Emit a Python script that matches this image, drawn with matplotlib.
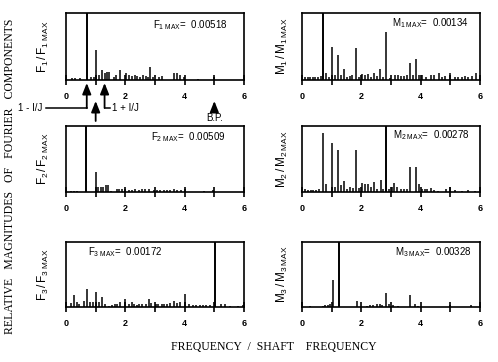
"""
Relative magnitudes of Fourier components of blade forces/moments vs frequency.
"""

import matplotlib
matplotlib.use("Agg")
import matplotlib.pyplot as plt

plt.rcParams["font.family"] = ["Liberation Sans", "DejaVu Sans"]
plt.rcParams["mathtext.fontset"] = "custom"
plt.rcParams["mathtext.rm"] = "Liberation Sans"
plt.rcParams["mathtext.it"] = "Liberation Sans"
plt.rcParams["mathtext.bf"] = "Liberation Sans:bold"

# ---- data: (frequency / shaft frequency, relative magnitude) ----
f1_freq = [0.19, 0.31, 0.48, 0.70, 0.84, 0.93, 1.00, 1.12, 1.21, 1.30, 1.38, 1.46,
           1.61, 1.70, 1.83, 2.03, 2.14, 2.23, 2.31, 2.40, 2.49, 2.58, 2.68, 2.76,
           2.83, 2.94, 3.14, 3.22, 3.65, 3.74, 3.84, 3.99, 4.44, 5.00]
f1_mag = [0.03, 0.03, 0.03, 1.00, 0.04, 0.05, 0.45, 0.08, 0.15, 0.10, 0.12, 0.12,
          0.05, 0.08, 0.15, 0.10, 0.08, 0.06, 0.07, 0.06, 0.05, 0.07, 0.06, 0.05,
          0.20, 0.05, 0.04, 0.06, 0.10, 0.10, 0.07, 0.04, 0.02, 0.05]

m1_freq = [0.11, 0.20, 0.28, 0.37, 0.45, 0.54, 0.63, 0.71, 0.82, 0.91, 1.01, 1.10,
           1.22, 1.31, 1.42, 1.52, 1.61, 1.70, 1.82, 1.93, 2.02, 2.12, 2.21, 2.32,
           2.43, 2.53, 2.64, 2.74, 2.84, 2.96, 3.13, 3.22, 3.33, 3.43, 3.54, 3.64,
           3.74, 3.84, 3.95, 4.05, 4.17, 4.34, 4.46, 4.63, 4.73, 4.82, 4.99, 5.16,
           5.27, 5.38, 5.50, 5.61, 5.72, 5.87]
m1_mag = [0.04, 0.05, 0.04, 0.04, 0.05, 0.05, 0.06, 1.00, 0.10, 0.04, 0.50, 0.07,
          0.38, 0.07, 0.17, 0.05, 0.06, 0.07, 0.48, 0.05, 0.09, 0.08, 0.09, 0.05,
          0.11, 0.06, 0.17, 0.05, 0.72, 0.03, 0.08, 0.07, 0.06, 0.06, 0.07, 0.25,
          0.07, 0.32, 0.08, 0.08, 0.05, 0.08, 0.08, 0.11, 0.05, 0.06, 0.11, 0.04,
          0.05, 0.05, 0.06, 0.05, 0.06, 0.11]

f2_freq = [0.17, 0.28, 0.38, 0.69, 1.00, 1.09, 1.17, 1.26, 1.34, 1.43, 1.51, 1.71,
           1.80, 1.88, 2.00, 2.11, 2.22, 2.34, 2.45, 2.56, 2.67, 2.79, 2.96, 3.07,
           3.18, 3.30, 3.41, 3.52, 3.63, 3.75, 3.86, 4.00, 4.65, 4.97]
f2_mag = [0.02, 0.02, 0.02, 1.00, 0.30, 0.07, 0.08, 0.08, 0.10, 0.11, 0.02, 0.05,
          0.04, 0.05, 0.04, 0.03, 0.03, 0.04, 0.03, 0.04, 0.04, 0.05, 0.03, 0.03,
          0.03, 0.03, 0.03, 0.03, 0.04, 0.03, 0.03, 0.04, 0.02, 0.03]

m2_freq = [0.11, 0.20, 0.29, 0.38, 0.47, 0.56, 0.72, 0.82, 1.01, 1.10, 1.23, 1.31,
           1.42, 1.53, 1.63, 1.72, 1.82, 1.93, 2.03, 2.12, 2.21, 2.32, 2.43, 2.53,
           2.65, 2.74, 2.84, 2.94, 3.02, 3.11, 3.21, 3.33, 3.43, 3.54, 3.64, 3.84,
           3.96, 4.05, 4.14, 4.23, 4.34, 4.46, 4.57, 4.84, 4.99, 5.16, 5.38, 5.61,
           5.83]
m2_mag = [0.04, 0.03, 0.03, 0.03, 0.03, 0.04, 0.90, 0.12, 0.75, 0.08, 0.64, 0.10,
          0.17, 0.05, 0.07, 0.06, 0.63, 0.06, 0.13, 0.12, 0.12, 0.07, 0.15, 0.05,
          0.18, 0.05, 1.00, 0.04, 0.07, 0.14, 0.08, 0.04, 0.05, 0.05, 0.38, 0.38,
          0.12, 0.05, 0.05, 0.05, 0.06, 0.03, 0.02, 0.05, 0.08, 0.03, 0.02, 0.03,
          0.02]

f3_freq = [0.17, 0.27, 0.36, 0.45, 0.59, 0.70, 0.82, 0.91, 1.01, 1.10, 1.21, 1.32,
           1.44, 1.55, 1.64, 1.72, 1.81, 2.00, 2.12, 2.21, 2.29, 2.38, 2.47, 2.57,
           2.68, 2.79, 2.88, 3.02, 3.11, 3.22, 3.31, 3.40, 3.49, 3.65, 3.74, 3.83,
           4.01, 4.16, 4.27, 4.38, 4.50, 4.61, 4.72, 4.84, 5.02, 5.21, 5.35, 5.52,
           5.80, 5.97]
f3_mag = [0.06, 0.18, 0.07, 0.05, 0.10, 0.27, 0.07, 0.08, 0.23, 0.07, 0.15, 0.05,
          0.02, 0.03, 0.04, 0.05, 0.07, 0.12, 0.05, 0.07, 0.04, 0.03, 0.04, 0.05,
          0.04, 0.12, 0.06, 0.04, 0.05, 0.04, 0.05, 0.05, 0.06, 0.10, 0.06, 0.07,
          0.20, 0.04, 0.03, 0.03, 0.03, 0.03, 0.03, 0.03, 1.00, 0.04, 0.05, 0.02,
          0.02, 0.03]

m3_freq = [0.26, 0.71, 0.79, 0.88, 0.96, 1.03, 1.24, 1.84, 2.18, 2.29, 2.41, 2.53,
           2.64, 2.71, 2.82, 2.94, 3.06, 3.23, 3.65, 3.82, 3.91, 5.00, 5.68]
m3_mag = [0.01, 0.02, 0.03, 0.03, 0.04, 0.42, 1.00, 0.10, 0.02, 0.03, 0.03, 0.05,
          0.05, 0.03, 0.22, 0.04, 0.03, 0.02, 0.19, 0.05, 0.02, 0.03, 0.03]

panels = [
    ("F", 1, "0.00518", f1_freq, f1_mag),
    ("M", 1, "0.00134", m1_freq, m1_mag),
    ("F", 2, "0.00509", f2_freq, f2_mag),
    ("M", 2, "0.00278", m2_freq, m2_mag),
    ("F", 3, "0.00172", f3_freq, f3_mag),
    ("M", 3, "0.00328", m3_freq, m3_mag),
]
# text position of the "X MAX = value" note, axes fraction
max_note_pos = [(0.49, 0.82), (0.505, 0.85), (0.48, 0.83),
                (0.51, 0.86), (0.125, 0.85), (0.52, 0.85)]

W, H = 498, 362
fig = plt.figure(figsize=(W / 100, H / 100), dpi=100)

col_left = [66, 302]
col_w = 178
rows = [(13, 80), (126, 192), (242, 307)]

axes = []
for i, (sym, idx, vmax, freq, mag) in enumerate(panels):
    r, c = divmod(i, 2)
    top, bot = rows[r]
    ax = fig.add_axes([col_left[c] / W, 1 - bot / H, col_w / W, (bot - top) / H])
    axes.append(ax)
    lw = [1.4 if m >= 0.99 else 1.1 for m in mag]
    ax.vlines(freq, 0, mag, colors="black", linewidth=lw)
    ax.set_xlim(0, 6)
    ax.set_ylim(0, 1.0)
    ax.set_yticks([])
    ax.set_xticks(range(7))
    ax.set_xticklabels(["0", "", "2", "", "4", "", "6"])
    ax.tick_params(axis="x", direction="inout", length=7, width=1.2,
                   pad=5, labelsize=6.5)
    for lab in ax.get_xticklabels():
        lab.set_fontweight("bold")
    for sp in ax.spines.values():
        sp.set_linewidth(1.2)

    ax.text(*max_note_pos[i], rf"${sym}_{{{idx}\ \mathrm{{MAX}}}}$=  {vmax}",
            transform=ax.transAxes, fontsize=7, va="center", ha="left")

    ylab_x = (43 if c == 0 else 282) / W
    yc = 1 - (top + bot) / 2 / H
    fig.text(ylab_x, yc, rf"${sym}_{{{idx}}}\,/\,{sym}_{{{idx}\ \mathrm{{MAX}}}}$",
             rotation=90, ha="center", va="center", fontsize=8.5)

# ---- annotations under the F1 panel ----
ax = axes[0]
tr = ax.get_xaxis_transform()


def up_arrow(x, y_tip, y_base):
    ax.annotate("", xy=(x, y_tip), xytext=(x, y_base), xycoords=tr, textcoords=tr,
                annotation_clip=False,
                arrowprops=dict(arrowstyle="-|>,head_length=0.55,head_width=0.22",
                                color="black", lw=1.3, shrinkA=0, shrinkB=0,
                                mutation_scale=12))


def yf(px):
    return (80 - px) / 67


up_arrow(0.7, yf(83), yf(108))
up_arrow(1.0, yf(101), yf(121))
up_arrow(1.3, yf(83), yf(108))
up_arrow(5.0, yf(101), yf(112))
ax.plot([-0.67, 0.7], [yf(108), yf(108)], color="black", lw=1.1,
        transform=tr, clip_on=False)
ax.plot([1.3, 1.49], [yf(108), yf(108)], color="black", lw=1.1,
        transform=tr, clip_on=False)
ax.text(-0.81, yf(108), "1 - I/J", transform=tr, fontsize=7, ha="right",
        va="center")
ax.text(1.55, yf(108), "1 + I/J", transform=tr, fontsize=7, ha="left",
        va="center")
ax.text(5.0, yf(113), "B.P.", transform=tr, fontsize=7, ha="center", va="top")

# ---- overall axis titles ----
serif = ["Liberation Serif", "DejaVu Serif"]
fig.text(10 / W, 1 - 176 / H, "RELATIVE   MAGNITUDES   OF   FOURIER   COMPONENTS",
         rotation=90, ha="center", va="center", fontsize=8.5, family=serif)
fig.text(274 / W, 1 - 347 / H, "FREQUENCY  /  SHAFT    FREQUENCY",
         ha="center", va="center", fontsize=8.5, family=serif)

fig.savefig("out.png", dpi=100)
